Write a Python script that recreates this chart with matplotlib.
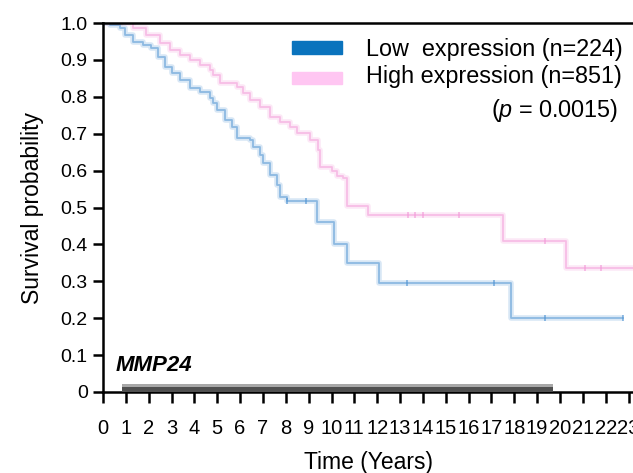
import matplotlib
matplotlib.use("Agg")
import matplotlib.pyplot as plt
from matplotlib.patches import Rectangle

plt.rcParams['font.family'] = ['Liberation Sans', 'DejaVu Sans']
plt.rcParams['mathtext.fontset'] = 'custom'
plt.rcParams['mathtext.rm'] = 'Liberation Sans'
plt.rcParams['mathtext.it'] = 'Liberation Sans:italic'

# Kaplan-Meier steps (years, survival)
low_t = [0, 0.3, 0.74, 0.96, 1.3, 1.75, 2.1, 2.4, 2.7, 3.0, 3.37, 3.8, 4.25,
         4.68, 4.81, 4.99, 5.34, 5.65, 5.86, 6.43, 6.56, 6.87, 7.0, 7.3, 7.6,
         7.75, 8.05, 9.35, 10.1, 10.7, 12.1, 17.85, 22.75]
low_s = [1.0, 0.995, 0.986, 0.967, 0.948, 0.94, 0.932, 0.908, 0.881, 0.864,
         0.845, 0.824, 0.813, 0.797, 0.783, 0.764, 0.737, 0.718, 0.688, 0.683,
         0.664, 0.642, 0.62, 0.588, 0.561, 0.528, 0.517, 0.46, 0.40, 0.35,
         0.295, 0.20, 0.20]
low_cens_t = [8.05, 8.9, 13.3, 17.1, 19.35, 22.75]

high_t = [0, 0.74, 1.3, 1.9, 2.5, 2.93, 3.37, 3.8, 4.25, 4.68, 4.81, 5.12,
          5.86, 6.13, 6.43, 6.87, 7.3, 7.75, 8.18, 8.5, 9.06, 9.4, 9.5, 10.0,
          10.25, 10.5, 10.7, 11.6, 17.5, 20.26, 23.3]
high_s = [1.0, 1.0, 0.986, 0.967, 0.946, 0.927, 0.913, 0.9, 0.886, 0.873,
          0.859, 0.837, 0.827, 0.81, 0.791, 0.772, 0.745, 0.732, 0.718, 0.702,
          0.683, 0.655, 0.61, 0.60, 0.585, 0.58, 0.505, 0.48, 0.41, 0.336,
          0.336]
high_cens_t = [13.35, 13.65, 14.0, 15.6, 19.35, 21.1, 21.8]

low_label = "Low  expression (n=224)"
high_label = "High expression (n=851)"
p_label = r"($\it{p}$ = 0.0015)"
gene = "MMP24"
bar_start, bar_end = 0.83, 19.7

xticks = list(range(0, 24))
yticks = [0, 0.1, 0.2, 0.3, 0.4, 0.5, 0.6, 0.7, 0.8, 0.9, 1.0]
yticklabels = ["0", "0.1", "0.2", "0.3", "0.4", "0.5", "0.6", "0.7", "0.8", "0.9", "1.0"]

low_col = '#4f93d2'
high_col = '#f29ad8'


def surv_at(ts, ss, t):
    v = ss[0]
    for a, b in zip(ts, ss):
        if a <= t:
            v = b
    return v


fig = plt.figure(figsize=(6.33, 4.73), dpi=100)
ax = fig.add_axes([103 / 633, 1 - 392 / 473, 530 / 633, 369 / 473])

for ts, ss, cens, col in [(high_t, high_s, high_cens_t, high_col),
                          (low_t, low_s, low_cens_t, low_col)]:
    ax.step(ts, ss, where='post', color=col, lw=4, alpha=0.22,
            solid_capstyle='butt')
    ax.step(ts, ss, where='post', color=col, lw=1.3, alpha=0.55)
    ax.plot(cens, [surv_at(ts, ss, c) for c in cens], '|', color=col,
            ms=5, mew=1.2, alpha=0.7)

# grey bar along the bottom
ax.fill_between([bar_start, bar_end], 0, 0.022, color='#505050', lw=0,
                zorder=3)
ax.fill_between([bar_start, bar_end], 0.014, 0.022, color='#a8a8a8', lw=0,
                zorder=3)

ax.text(0.53, 0.073, gene, fontsize=16, fontweight='bold',
        fontstyle='italic', va='center', ha='left')

# legend drawn by hand
ax.add_patch(Rectangle((0.3566, 0.916), 0.0943, 0.035, color='#0a73bd',
                       transform=ax.transAxes, clip_on=False))
ax.add_patch(Rectangle((0.3566, 0.835), 0.0943, 0.032, color='#ffc6f2',
                       transform=ax.transAxes, clip_on=False))
ax.text(0.496, 0.927, low_label, fontsize=16.8, va='center', ha='left',
        transform=ax.transAxes)
ax.text(0.496, 0.854, high_label, fontsize=16.8, va='center', ha='left',
        transform=ax.transAxes)
ax.text(0.972, 0.764, p_label, fontsize=16.8, va='center', ha='right',
        transform=ax.transAxes)

ax.set_xlim(0, 530 / 22.85)
ax.set_ylim(0, 1)
ax.set_xticks(xticks)
ax.set_xticklabels([str(x) for x in xticks], fontsize=14.5)
ax.set_yticks(yticks)
ax.set_yticklabels(yticklabels, fontsize=14)
ax.tick_params(axis='x', length=8, width=1.8, pad=11.5)
ax.tick_params(axis='y', length=7, width=1.8, pad=4)
for side in ['left', 'bottom', 'top']:
    ax.spines[side].set_linewidth(1.8)
ax.spines['right'].set_visible(False)

ax.set_xlabel("Time (Years)", fontsize=16.5, labelpad=9)
ax.set_ylabel("Survival probability", fontsize=16.5, labelpad=12)

fig.savefig("out.png", dpi=100)
